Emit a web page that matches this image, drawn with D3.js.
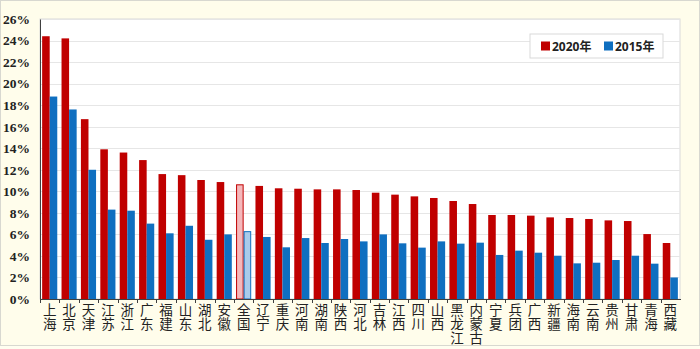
<!DOCTYPE html>
<html><head><meta charset="utf-8">
<script src="https://cdn.jsdelivr.net/npm/d3@7"></script>
<style>
html,body{margin:0;padding:0;background:#fffef0;}
svg{display:block;}
</style></head>
<body>
<svg id="chart" width="700" height="349"></svg>
<script>
const categories = ["上海","北京","天津","江苏","浙江","广东","福建","山东","湖北","安徽","全国","辽宁","重庆","河南","湖南","陕西","河北","吉林","江西","四川","山西","黑龙江","内蒙古","宁夏","兵团","广西","新疆","海南","云南","贵州","甘肃","青海","西藏"];
const values2020 = [24.4,24.2,16.7,13.9,13.6,12.9,11.6,11.5,11.05,10.86,10.65,10.5,10.28,10.24,10.18,10.18,10.12,9.87,9.69,9.53,9.38,9.1,8.82,7.8,7.8,7.74,7.58,7.52,7.43,7.3,7.24,6.03,5.2];
const values2015 = [18.8,17.6,12.0,8.3,8.2,7.0,6.1,6.8,5.5,6.0,6.3,5.76,4.8,5.66,5.2,5.57,5.35,6.0,5.17,4.77,5.35,5.14,5.23,4.09,4.49,4.3,4.02,3.31,3.37,3.62,4.02,3.28,2.0];
const seriesNames = ["2020年","2015年"];
const yTicks = [0,2,4,6,8,10,12,14,16,18,20,22,24,26];

(function(){
const svg = d3.select("#chart");
const W = 700, H = 349;
const mL = 40, mR = 680, mT = 19, mB = 299;

svg.append("rect").attr("x",0.5).attr("y",0.5).attr("width",W-1).attr("height",H-4)
  .attr("fill","#fffdeb").attr("stroke","#d8d8d0");
svg.append("rect").attr("x",mL).attr("y",mT).attr("width",mR-mL).attr("height",mB-mT)
  .attr("fill","#ffffff").attr("stroke","#d9d9d9");

const y = d3.scaleLinear().domain([0,26]).range([mB, mT]);
const x = d3.scaleBand().domain(categories).range([mL, mR]).paddingInner(0.22).paddingOuter(0.11);
const xs = d3.scaleBand().domain(seriesNames).range([0, x.bandwidth()]);

svg.append("g").selectAll("line").data(yTicks.filter(d=>d>0)).join("line")
  .attr("x1",mL).attr("x2",mR).attr("y1",d=>Math.round(y(d))+0.5).attr("y2",d=>Math.round(y(d))+0.5)
  .attr("stroke","#e6e6e6").attr("stroke-width",1);

const colors = {"2020年":"#c00000","2015年":"#0f6fc0"};
const light = {"2020年":"#f4b8bb","2015年":"#a9cbeb"};

const g = svg.append("g");
categories.forEach((c,i)=>{
  const isNat = c === "全国";
  [[seriesNames[0], values2020[i]],[seriesNames[1], values2015[i]]].forEach(([s,v])=>{
    g.append("rect")
      .attr("x", x(c)+xs(s) + (isNat?0.5:0))
      .attr("y", y(v) + (isNat?0.5:0))
      .attr("width", xs.bandwidth() - (isNat?1:0))
      .attr("height", y(0)-y(v) - (isNat?0.5:0))
      .attr("fill", isNat ? light[s] : colors[s])
      .attr("stroke", isNat ? colors[s] : "none")
      .attr("stroke-width", 1);
  });
});

const yAxis = d3.axisLeft(y).tickValues(yTicks).tickFormat(d=>d+"%").tickSize(0).tickPadding(10);
const ya = svg.append("g").attr("transform",`translate(${mL},0)`).call(yAxis);
ya.select(".domain").attr("stroke","#404040");
ya.selectAll("text").attr("font-family","'Liberation Serif','Times New Roman',serif")
  .attr("font-weight","bold").attr("font-size","13.5px").attr("fill","#222");

const xa = svg.append("g").attr("transform",`translate(0,${mB})`);
xa.append("line").attr("x1",mL).attr("x2",mR+1).attr("y1",0.5).attr("y2",0.5).attr("stroke","#404040");
xa.selectAll("line.tk").data(categories).join("line").attr("class","tk")
  .attr("x1",c=>Math.round(x(c) - x.step()*0.11)+0.5).attr("x2",c=>Math.round(x(c) - x.step()*0.11)+0.5)
  .attr("y1",0).attr("y2",4).attr("stroke","#404040");

xa.selectAll("text.cat").data(categories).join("text").attr("class","cat")
  .attr("x", c => x(c) + x.bandwidth()/2)
  .attr("y", 4)
  .style("writing-mode","vertical-rl")
  .style("text-orientation","upright")
  .attr("text-anchor","start")
  .attr("letter-spacing","0.5px")
  .attr("font-family","'Noto Sans CJK SC',sans-serif")
  .attr("font-size","13.5px").attr("fill","#222")
  .text(c => c);

const lg = svg.append("g").attr("transform","translate(530,34)");
lg.append("rect").attr("width",133).attr("height",24).attr("fill","#fff").attr("stroke","#d9d9d9");
seriesNames.forEach((s,i)=>{
  const ox = 11 + i*63;
  lg.append("rect").attr("x",ox).attr("y",7.5).attr("width",9).attr("height",9).attr("fill",colors[s]);
  lg.append("text").attr("x",ox+11).attr("y",17).attr("font-family","'Open Sans','Noto Sans CJK SC',sans-serif")
    .attr("font-weight","bold").attr("font-size","12px").attr("fill","#222").text(s);
});
})();
</script>
</body></html>
